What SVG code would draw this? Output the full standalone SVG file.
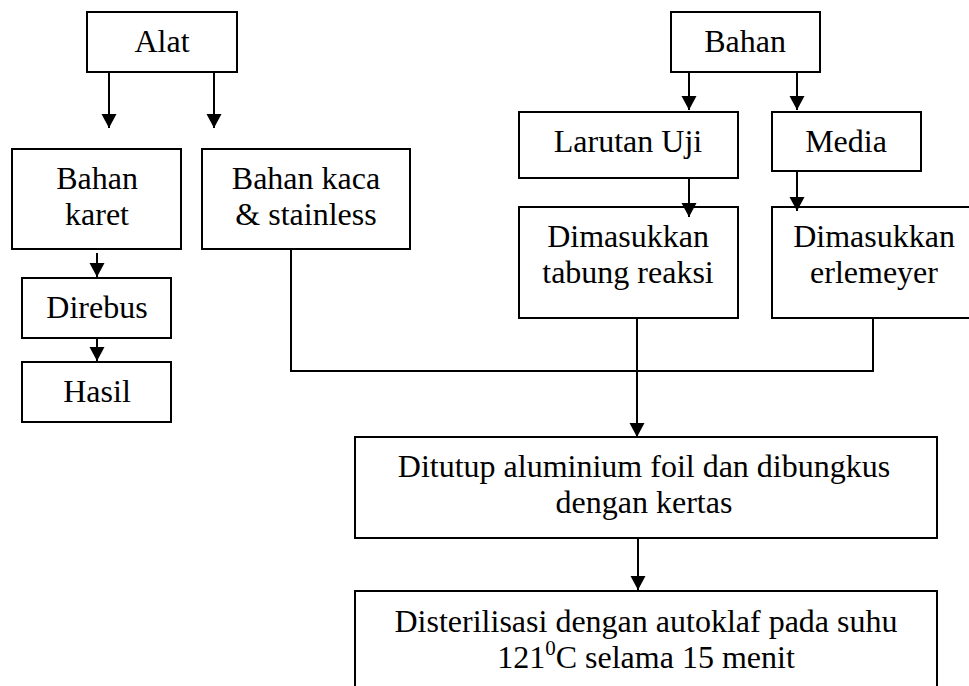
<svg xmlns="http://www.w3.org/2000/svg" width="969" height="686" viewBox="0 0 969 686">
<defs>
<style>
.box{fill:#fff;stroke:#000;stroke-width:2}
text{font-family:"Liberation Serif","Times New Roman",Tinos,"DejaVu Serif",serif;font-size:32px;fill:#000;text-anchor:middle}
.ln{fill:none;stroke:#000;stroke-width:2}
</style>
<marker id="ah" markerUnits="userSpaceOnUse" markerWidth="15" markerHeight="16" refX="14" refY="8" orient="auto">
<path d="M0,0.5 L14,8 L0,15.5 z" fill="#000"/>
</marker>
</defs>
<rect width="969" height="686" fill="#fff"/>
<g id="alat"><rect class="box" x="87" y="12" width="150" height="60"/><text x="162" y="52">Alat</text></g>
<g id="bahan"><rect class="box" x="671" y="12" width="149" height="60"/><text x="745" y="52">Bahan</text></g>
<g id="karet"><rect class="box" x="12" y="149" width="169" height="100"/><text x="97" y="189">Bahan</text><text x="97" y="225">karet</text></g>
<g id="kaca"><rect class="box" x="202" y="149" width="208" height="100"/><text x="306" y="189">Bahan kaca</text><text x="306" y="225">&amp; stainless</text></g>
<g id="direbus"><rect class="box" x="22" y="278" width="149" height="60"/><text x="97" y="318">Direbus</text></g>
<g id="hasil"><rect class="box" x="22" y="362" width="149" height="60"/><text x="97" y="402">Hasil</text></g>
<g id="larutan"><rect class="box" x="519" y="112" width="219" height="66"/><text x="628" y="152">Larutan Uji</text></g>
<g id="media"><rect class="box" x="772" y="112" width="149" height="59"/><text x="846" y="152">Media</text></g>
<g id="tabung"><rect class="box" x="519" y="207" width="219" height="111"/><text x="628" y="247">Dimasukkan</text><text x="628" y="283">tabung reaksi</text></g>
<g id="erlemeyer"><rect class="box" x="772" y="207" width="205" height="111"/><text x="874" y="247">Dimasukkan</text><text x="874" y="283">erlemeyer</text></g>
<g id="ditutup"><rect class="box" x="355" y="437" width="582" height="101"/><text x="644" y="477">Ditutup aluminium foil dan dibungkus</text><text x="644" y="513">dengan kertas</text></g>
<g id="sterilisasi"><rect class="box" x="355" y="591" width="582" height="110"/><text x="646" y="632">Disterilisasi dengan autoklaf pada suhu</text><text x="646" y="668">121<tspan font-size="21" dy="-13">0</tspan><tspan dy="13">C selama 15 menit</tspan></text></g>
<g id="connectors">
<line class="ln" x1="109" y1="72" x2="109" y2="128" marker-end="url(#ah)"/>
<line class="ln" x1="214" y1="72" x2="214" y2="128" marker-end="url(#ah)"/>
<line class="ln" x1="689" y1="72" x2="689" y2="110" marker-end="url(#ah)"/>
<line class="ln" x1="797" y1="72" x2="797" y2="110" marker-end="url(#ah)"/>
<line class="ln" x1="689" y1="178" x2="689" y2="217" marker-end="url(#ah)"/>
<line class="ln" x1="797" y1="171" x2="797" y2="211" marker-end="url(#ah)"/>
<line class="ln" x1="97" y1="253" x2="97" y2="277" marker-end="url(#ah)"/>
<line class="ln" x1="97" y1="338" x2="97" y2="361" marker-end="url(#ah)"/>
<line class="ln" x1="637" y1="318" x2="637" y2="437" marker-end="url(#ah)"/>
<line class="ln" x1="638" y1="538" x2="638" y2="590" marker-end="url(#ah)"/>
<polyline class="ln" points="291,249 291,371 873,371 873,318"/>
</g>
</svg>
